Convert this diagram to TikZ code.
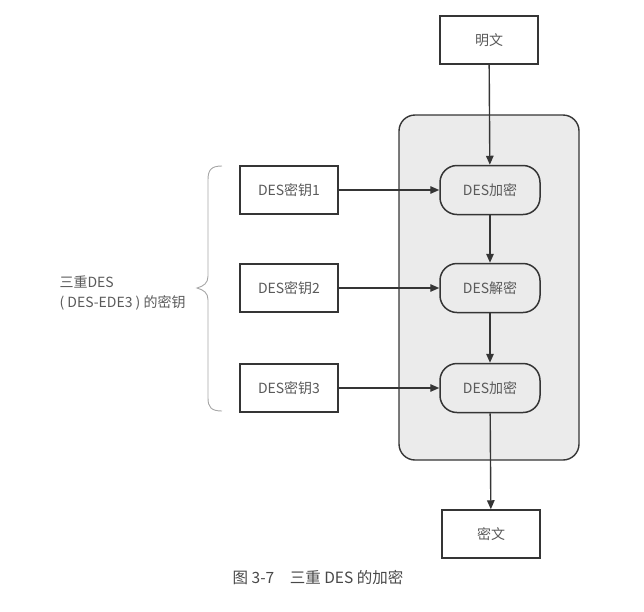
\documentclass[tikz,border=0pt]{standalone}
\usepackage{fontspec}
\setmainfont{Noto Sans CJK SC}
\usetikzlibrary{arrows.meta}

\definecolor{linegray}{HTML}{353535}
\definecolor{textgray}{HTML}{5A5A5A}
\definecolor{boxfill}{HTML}{EBEBEB}

\tikzset{
  keybox/.style={draw=linegray,line width=1.5pt,fill=white,minimum width=98pt,
                 minimum height=48pt,text=textgray,font=\fontsize{14}{16}\selectfont},
  desbox/.style={keybox,minimum width=100pt,minimum height=49pt,rounded corners=17pt,fill=boxfill},
  flow/.style={draw=linegray,line width=1.4pt,-{Triangle[length=9pt,width=7.5pt]}}
}

\begin{document}
\begin{tikzpicture}[x=1pt,y=-1pt]
  \useasboundingbox (0,0) rectangle (644,611);
  % grey frame round the three DES steps
  \node [draw=linegray,line width=1.4pt,fill=boxfill,rounded corners=16pt,
         minimum width=180pt,minimum height=345pt] (frame) at (489,287.5) {};

  \node [keybox] (plain) at (489,40) {明文};
  \node [desbox] (enc1)  at (490,190) {DES加密};
  \node [desbox] (dec)   at (490,288) {DES解密};
  \node [desbox] (enc3)  at (490,388) {DES加密};
  \node [keybox] (cipher) at (491,534) {密文};

  \node [keybox] (key1) at (289,190) {DES密钥1};
  \node [keybox] (key2) at (289,288) {DES密钥2};
  \node [keybox] (key3) at (289,388) {DES密钥3};

  \draw [flow] (plain) -- (enc1);
  \draw [flow] (enc1) -- (dec);
  \draw [flow] (dec) -- (enc3);
  \draw [flow] (enc3) -- (cipher);
  \draw [flow] (key1) -- (enc1);
  \draw [flow] (key2) -- (dec);
  \draw [flow] (key3) -- (enc3);

  % brace over the keys
  \draw [draw=gray!70,line width=0.9pt]
    (222,166) .. controls (211,166) and (208,170) .. (208,180) -- (208,276)
    .. controls (208,283) and (204,286) .. (197,288)
    .. controls (204,290) and (208,293) .. (208,300) -- (208,398)
    .. controls (208,407) and (211,411) .. (222,411);
  \node [anchor=west,align=left,text=textgray,font=\fontsize{14}{20}\selectfont]
    (keys) at (56,293) {三重DES\\( DES-EDE3 ) 的密钥};

  \node [text=textgray!80!black,font=\fontsize{15.5}{17}\selectfont] (caption) at (318,578)
    {图 3-7\quad 三重 DES 的加密};
\end{tikzpicture}
\end{document}
